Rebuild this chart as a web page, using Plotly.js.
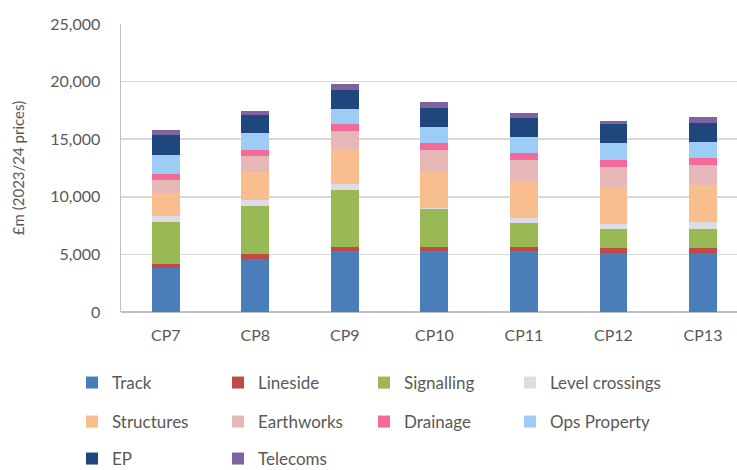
<!DOCTYPE html>
<html><head><meta charset="utf-8">
<script src="https://cdn.plot.ly/plotly-3.0.1.min.js"></script>
<style>html,body{margin:0;padding:0;background:#fff;}</style>
</head><body>
<div id="chart" style="width:737px;height:470px;"></div>
<script>
const categories = ["CP7","CP8","CP9","CP10","CP11","CP12","CP13"];
const track      = [3800, 4630, 5320, 5270, 5300, 5150, 5150];
const lineside   = [370, 380, 350, 350, 370, 380, 380];
const signalling = [3620, 4190, 4920, 3300, 2080, 1650, 1650];
const levelCrossings = [550, 520, 520, 150, 380, 460, 610];
const structures = [1970, 2460, 3010, 3210, 3270, 3240, 3240];
const earthworks = [1160, 1360, 1620, 1790, 1790, 1680, 1710];
const drainage   = [520, 520, 560, 580, 580, 630, 610];
const opsProperty = [1620, 1450, 1300, 1390, 1450, 1450, 1440];
const ep         = [1770, 1560, 1680, 1650, 1650, 1680, 1650];
const telecoms   = [400, 380, 520, 550, 430, 260, 470];
const yTickVals = [0, 5000, 10000, 15000, 20000, 25000];
const yTickText = ["0", "5,000", "10,000", "15,000", "20,000", "25,000"];

// legend grid: rows 1-3 use columns 1-3 in legend/legend2/legend3; column 4 uses legend4/legend5
const seriesDefs = [
  ["Track", track, "#4a7ebb", "legend"],
  ["Lineside", lineside, "#be4b48", "legend"],
  ["Signalling", signalling, "#98b954", "legend"],
  ["Level crossings", levelCrossings, "#dcdbe6", "legend4"],
  ["Structures", structures, "#f9be8e", "legend2"],
  ["Earthworks", earthworks, "#e5b8b7", "legend2"],
  ["Drainage", drainage, "#f2699a", "legend2"],
  ["Ops Property", opsProperty, "#9dcdf5", "legend5"],
  ["EP", ep, "#1f477d", "legend3"],
  ["Telecoms", telecoms, "#7f63a1", "legend3"]
];

const traces = seriesDefs.map(([name, vals, color, lg]) => ({
  type: "bar", name: name, x: categories, y: vals,
  marker: {color: color, line: {width: 0}},
  legend: lg, hoverinfo: "skip"
}));

const font = "Lato, 'Open Sans', sans-serif";
function legendDef(xText, yPix, ew) {
  return {
    orientation: "h", xref: "container", yref: "container",
    x: (xText - 40) / 737, y: 1 - yPix/470, xanchor: "left", yanchor: "middle",
    entrywidth: ew, entrywidthmode: "pixels",
    font: {family: font, size: 17, color: "#595959"},
    bgcolor: "rgba(0,0,0,0)", borderwidth: 0, traceorder: "normal"
  };
}

const layout = {
  width: 737, height: 470,
  margin: {l: 121, r: 0, t: 24, b: 158},
  paper_bgcolor: "#fff", plot_bgcolor: "#fff",
  barmode: "stack", bargap: 0.69,
  font: {family: font, color: "#595959"},
  xaxis: {
    range: [-0.5, 6.38], showgrid: false, zeroline: false,
    showline: false, ticks: "", tickfont: {size: 16, color: "#595959"},
    ticklabelstandoff: 12, fixedrange: true
  },
  yaxis: {
    range: [0, 25000], tickvals: yTickVals, ticktext: yTickText,
    showgrid: true, gridcolor: "#d9d9d9", gridwidth: 1.5,
    zeroline: true, zerolinecolor: "#bfbfbf", zerolinewidth: 1.5,
    showline: true, linecolor: "#bfbfbf", linewidth: 1.5,
    ticks: "", tickfont: {size: 16, color: "#595959"},
    ticklabelstandoff: 16,
    title: {text: "£m (2023/24 prices)", font: {size: 15, color: "#595959"}, standoff: 22}
  },
  showlegend: true,
  legend: legendDef(112, 383, 101),
  legend2: legendDef(112, 422, 101),
  legend3: legendDef(112, 459, 101),
  legend4: legendDef(550, 383, 0),
  legend5: legendDef(550, 422, 0)
};

Plotly.newPlot("chart", traces, layout, {displayModeBar: false, staticPlot: true});
</script>
</body></html>
